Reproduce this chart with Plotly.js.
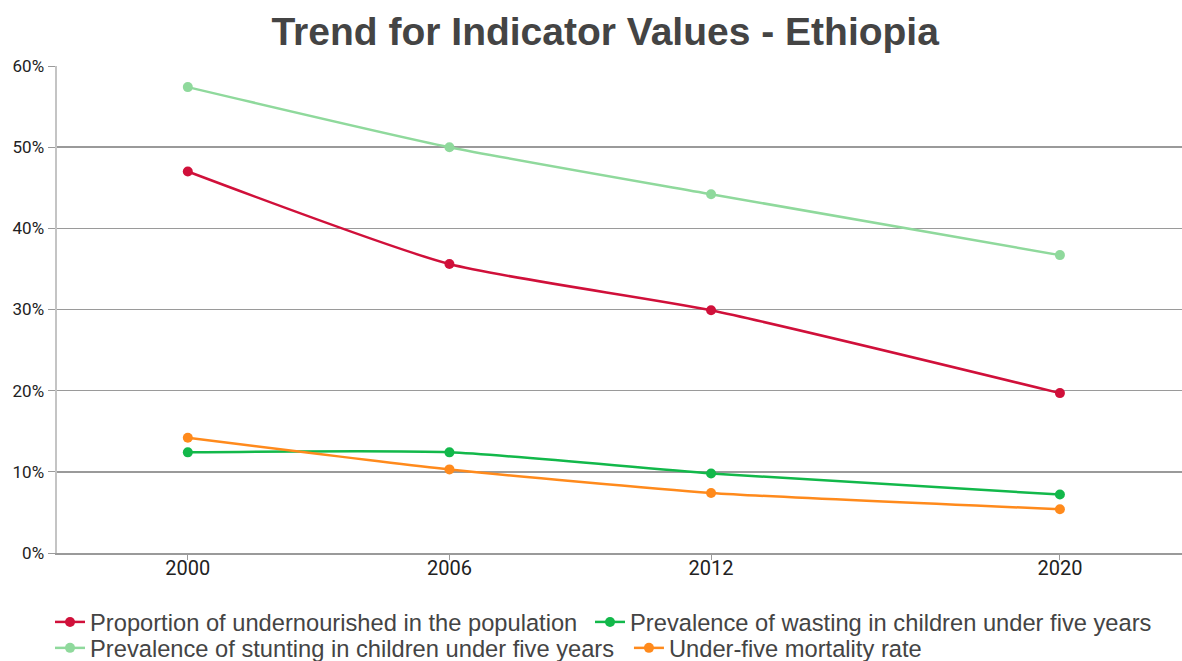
<!DOCTYPE html>
<html>
<head>
<meta charset="utf-8">
<script src="https://cdn.plot.ly/plotly-3.0.1.min.js"></script>
<style>html,body{margin:0;padding:0;background:#fff;}#chart{width:1182px;height:661px;}</style>
</head>
<body>
<div id="chart"></div>
<script>
const years = [2000, 2006, 2012, 2020];
const yearLabels = ["2000", "2006", "2012", "2020"];
const undernourished = [47.0, 35.6, 29.9, 19.7];
const wasting = [12.4, 12.4, 9.8, 7.2];
const stunting = [57.4, 50.0, 44.2, 36.7];
const mortality = [14.2, 10.3, 7.4, 5.4];
const seriesNames = [
  "Proportion of undernourished in the population",
  "Prevalence of wasting in children under five years",
  "Prevalence of stunting in children under five years",
  "Under-five mortality rate"
];
const seriesColors = ["#d0103a", "#12b84a", "#8fd99c", "#ff8a1c"];
const seriesValues = [undernourished, wasting, stunting, mortality];
const legendIds = ["legend", "legend2", "legend3", "legend4"];

const traces = seriesValues.map((vals, i) => ({
  x: years,
  y: vals,
  name: seriesNames[i],
  legend: legendIds[i],
  type: "scatter",
  mode: "lines+markers",
  line: {color: seriesColors[i], width: 2.5, shape: "spline", smoothing: 0.6},
  marker: {color: seriesColors[i], size: 10},
  hoverinfo: "skip"
}));

const legendFont = {family: "Liberation Sans, Arial, sans-serif", size: 23.7, color: "#444444"};
function legendAt(x, y) {
  return {
    orientation: "h",
    x: x, xanchor: "left",
    y: y, yanchor: "middle",
    font: legendFont,
    itemwidth: 30,
    bgcolor: "rgba(0,0,0,0)",
    traceorder: "normal"
  };
}

const layout = {
  width: 1182,
  height: 661,
  margin: {l: 57, r: 0, t: 66, b: 108, pad: 0, autoexpand: false},
  paper_bgcolor: "#ffffff",
  plot_bgcolor: "#ffffff",
  showlegend: true,
  title: {
    text: "Trend for Indicator Values - Ethiopia",
    font: {family: "Liberation Sans, Arial, sans-serif", size: 39, color: "#444444", weight: "bold"},
    x: 0.512, xanchor: "center", y: 0.952, yanchor: "middle"
  },
  xaxis: {
    range: [1997, 2022.8],
    tickvals: years,
    ticktext: yearLabels,
    showgrid: false,
    zeroline: false,
    showline: true,
    linecolor: "#9a9a9a",
    linewidth: 1.5,
    ticks: "outside",
    ticklen: 5,
    tickcolor: "#9a9a9a",
    ticklabelstandoff: -9,
    tickfont: {family: "Roboto, sans-serif", size: 20, color: "#222222"}
  },
  yaxis: {
    range: [0, 60],
    dtick: 10,
    ticksuffix: "%",
    showgrid: true,
    gridcolor: "#9a9a9a",
    gridwidth: 1.5,
    zeroline: false,
    showline: true,
    linecolor: "#c4c4c4",
    linewidth: 2.5,
    ticks: "outside",
    ticklen: 7,
    tickcolor: "#9a9a9a",
    tickfont: {family: "Roboto, sans-serif", size: 17, color: "#222222"}
  },
  legend: legendAt(-0.0062, -0.1417),
  legend2: legendAt(0.4738, -0.1417),
  legend3: legendAt(-0.0062, -0.195),
  legend4: legendAt(0.5084, -0.195)
};

Plotly.newPlot("chart", traces, layout, {displayModeBar: false, staticPlot: true});
</script>
</body>
</html>
